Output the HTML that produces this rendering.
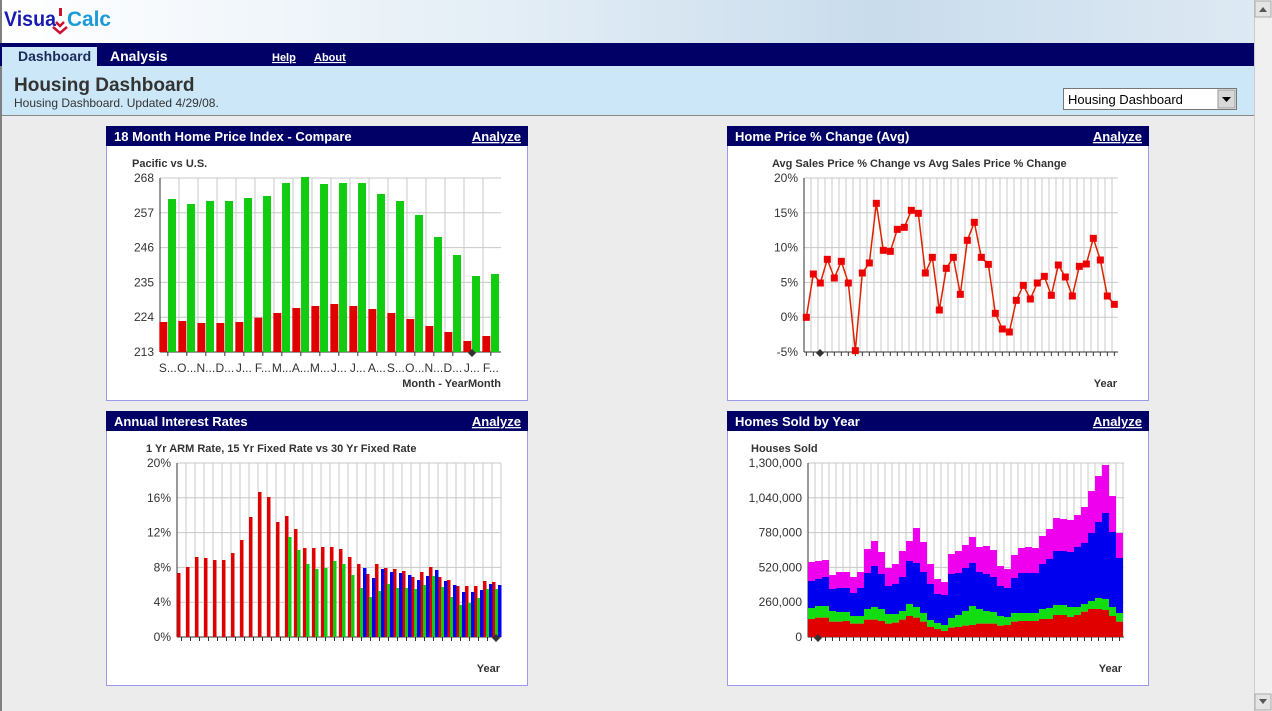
<!DOCTYPE html>
<html><head><meta charset="utf-8"><style>
body{margin:0;width:1272px;height:711px;overflow:hidden;background:#ececec;font-family:"Liberation Sans",sans-serif;}
svg{position:absolute;left:0;top:0}
</style></head><body>
<svg id="s" width="1272" height="711" xmlns="http://www.w3.org/2000/svg" font-family="Liberation Sans, sans-serif">
<defs>
<linearGradient id="ban" x1="0" x2="1" y1="0" y2="0"><stop offset="0" stop-color="#ffffff"/><stop offset="0.4" stop-color="#e4eef6"/><stop offset="0.7" stop-color="#c9dcec"/><stop offset="1" stop-color="#dde9f3"/></linearGradient>
</defs>
<rect x="0" y="0" width="1272" height="711" fill="#ececec"/>
<rect x="0" y="0" width="1254" height="43" fill="url(#ban)"/>
<rect x="0" y="0" width="2" height="711" fill="#808080"/>
<text x="4" y="26" font-size="21" font-weight="bold" fill="#1a1ab0" textLength="52" lengthAdjust="spacingAndGlyphs">Visua</text>
<text x="67" y="26" font-size="21" font-weight="bold" fill="#1a9ad8" textLength="44" lengthAdjust="spacingAndGlyphs">Calc</text>
<rect x="59" y="8" width="3" height="8" fill="#cc1133"/>
<path d="M53 27 l7 6 l7 -6 M56 22 l4 4 l4 -4" stroke="#cc1133" stroke-width="2.5" fill="none"/>
<rect x="0" y="43" width="1254" height="23" fill="#000066"/>
<rect x="2" y="47" width="95" height="19" fill="#cce8f8"/>
<text x="18" y="61" font-size="14" font-weight="bold" fill="#1a2a5a">Dashboard</text>
<text x="110" y="61" font-size="14" font-weight="bold" fill="#fff">Analysis</text>
<text x="272" y="61" font-size="11" font-weight="bold" fill="#fff" text-decoration="underline">Help</text>
<text x="314" y="61" font-size="11" font-weight="bold" fill="#fff" text-decoration="underline">About</text>
<rect x="2" y="66" width="1252" height="49" fill="#cce8f8"/>
<rect x="2" y="115" width="1252" height="1" fill="#888"/>
<text x="14" y="91" font-size="19" font-weight="bold" fill="#333">Housing Dashboard</text>
<text x="14" y="107" font-size="12" fill="#333">Housing Dashboard. Updated 4/29/08.</text>
<rect x="1063.5" y="88.5" width="173" height="21" fill="#fff" stroke="#777"/>
<text x="1068" y="104" font-size="13" fill="#000">Housing Dashboard</text>
<rect x="1218" y="90" width="17" height="18" fill="#d8d8d8" stroke="#999"/>
<path d="M1222 97 h9 l-4.5 5z" fill="#000"/>
<rect x="1254" y="0" width="18" height="711" fill="#f0f0f0"/>
<rect x="1254" y="0" width="1" height="711" fill="#ccc"/>
<rect x="1255" y="1" width="16" height="16" fill="#e4e4e4" stroke="#aaa"/>
<path d="M1259 12 h8 l-4 -5z" fill="#555"/>
<rect x="1255" y="694" width="16" height="16" fill="#e4e4e4" stroke="#aaa"/>
<path d="M1259 699 h8 l-4 5z" fill="#555"/>
<g id="g"></g>
</svg>
<script>
var g=document.getElementById('g'),h='';
function R(x,y,w,hh,f,ex){h+='<rect x="'+x+'" y="'+y+'" width="'+w+'" height="'+hh+'" fill="'+f+'" '+(ex||'')+'/>';}
function L(x1,y1,x2,y2,c,w){h+='<line x1="'+x1+'" y1="'+y1+'" x2="'+x2+'" y2="'+y2+'" stroke="'+c+'" stroke-width="'+(w||1)+'"/>';}
function T(x,y,s,sz,a,b,c,ex){h+='<text x="'+x+'" y="'+y+'" font-size="'+sz+'" fill="'+(c||'#333')+'" text-anchor="'+(a||'start')+'"'+(b?' font-weight="bold"':'')+' '+(ex||'')+'>'+s+'</text>';}
function panel(x,y,title){R(x+0.5,y+0.5,421,274,'#fff','stroke="#9999ee"');R(x,y,422,20,'#000066');
T(x+8,y+15,title,13,'start',1,'#fff');T(x+415,y+15,'Analyze',13,'end',1,'#fff','text-decoration="underline"');}
panel(106,126,'18 Month Home Price Index - Compare');
panel(727,126,'Home Price % Change (Avg)');
panel(106,411,'Annual Interest Rates');
panel(727,411,'Homes Sold by Year');
function grid(x0,x1,y0,y1,nv,ylabs,ncols,dx){
 for(var i=0;i<ylabs.length;i++){var y=y1-(y1-y0)*i/(ylabs.length-1);L(x0,y,x1,y,'#c8c8c8');T(x0-6,y+4,ylabs[i],12,'end');}
 for(var k=0;k<=ncols;k++){var x=x0+k*dx;if(x<=x1+0.5)L(x,y0,x,y1,'#c8c8c8');}
 L(x0,y0,x0,y1,'#333');L(x0,y1,x1,y1,'#333');
}
grid(160,501,178,352,0,['213','224','235','246','257','268'],18,19);
var rd=[591,588,594,594,591,578,564,549,543,537,543,552,564,582,603,621,648,633];
var gr=[222,237,228,228,219,213,174,156,177,174,174,207,228,270,336,390,453,447];
var ml=['S...','O...','N...','D...','J...','F...','M...','A...','M...','J...','J...','A...','S...','O...','N...','D...','J...','F...'];
for(var i=0;i<18;i++){var rx=106+(160+57*i)/3,ry=125+rd[i]/3,gy=125+gr[i]/3;
R(rx,ry,8,352-ry,'#e00000');R(rx+8.7,gy,8,352-gy,'#11cc11');L(rx+8.5,352,rx+8.5,356,'#333');T(rx+8.5,372,ml[i],12,'middle');}
h+='<path d="M472 349 l4 4 l-4 4 l-4 -4z" fill="#333"/>';
T(501,387,'Month - YearMonth',11,'end',1);T(132,167,'Pacific vs U.S.',11,'start',1);
grid(804,1118,178,352,0,['-5%','0%','5%','10%','15%','20%'],45,7);
var pts=[[238,577],[259,447],[280,474],[301,403],[322,459],[343,409],[364,474],[385,677],[406,444],[427,414],[448,235],[469,376],[490,379],[511,313],[532,307],[553,256],[574,265],[595,444],[616,397],[637,555],[658,430],[679,397],[700,508],[721,346],[742,292],[763,397],[784,418],[805,565],[826,612],[847,621],[868,526],[889,481],[910,522],[931,474],[952,454],[973,511],[994,420],[1015,456],[1036,513],[1057,424],[1078,417],[1099,340],[1120,405],[1141,513],[1162,538]];
var d='';for(var i=0;i<pts.length;i++){var x=727+pts[i][0]/3,y=125+pts[i][1]/3;d+=(i?'L':'M')+x+' '+y;L(x,352,x,356,'#333');}
h+='<path d="'+d+'" stroke="#dd2200" stroke-width="1.5" fill="none"/>';
for(var i=0;i<pts.length;i++){var x=727+pts[i][0]/3,y=125+pts[i][1]/3;R(x-3.5,y-3.5,7,7,'#ee0000');}
h+='<path d="M820 349 l4 4 l-4 4 l-4 -4z" fill="#333"/>';
T(1117,387,'Year',11,'end',1);T(772,167,'Avg Sales Price % Change vs Avg Sales Price % Change',11,'start',1);
grid(177,501,463,637,0,['0%','4%','8%','12%','16%','20%'],36,9);
var r3=[489,471,441,444,450,450,429,390,321,246,261,336,318,357,414,414,411,411,417,441,462,492,462,474,477,483,501,486,471,501,510,528,528,528,513,516];
for(var i=0;i<r3.length;i++){var x=106+(213+27*i)/3,y=410+r3[i]/3;R(x,y,3.5,637-y,'#e00000');L(x+4.5,637,x+4.5,641,'#333');}
var g3=[[546,381],[573,420],[600,462],[627,477],[654,474],[681,453],[708,462],[735,495],[762,534],[789,561],[816,543],[843,522],[870,534],[897,534],[924,537],[951,525],[978,498],[1005,531],[1032,561],[1059,585],[1086,579],[1113,564],[1140,537],[1167,537]];
g3.forEach(function(p){var x=106+p[0]/3,y=410+p[1]/3;R(x,y,3.5,637-y,'#11cc11');});
var b3=[[771,474],[798,504],[825,477],[852,486],[879,489],[906,495],[933,510],[960,498],[987,480],[1014,513],[1041,525],[1068,546],[1095,546],[1122,540],[1149,522],[1176,525]];
b3.forEach(function(p){var x=106+p[0]/3,y=410+p[1]/3;R(x,y,3.5,637-y,'#0000ee');});
h+='<path d="M496 634 l4 4 l-4 4 l-4 -4z" fill="#333"/>';
T(500,672,'Year',11,'end',1);T(146,452,'1 Yr ARM Rate, 15 Yr Fixed Rate vs 30 Yr Fixed Rate',11,'start',1);
grid(808,1124,463,637,0,['0','260,000','520,000','780,000','1,040,000','1,300,000'],45,7);
var tt=[456,453,450,495,486,486,501,486,417,393,426,474,462,423,393,354,396,462,507,516,432,423,405,381,411,408,420,468,477,435,414,411,414,378,357,324,327,330,315,291,243,198,165,258,369];
var bt=[513,507,501,537,534,534,549,534,489,468,492,528,522,501,453,459,486,522,552,555,492,489,474,459,486,492,501,528,534,504,489,489,489,462,447,423,423,426,411,399,369,336,309,366,444];
var gt=[594,588,588,603,606,606,618,618,597,591,597,612,612,603,582,591,609,630,639,645,624,615,603,588,597,603,606,618,621,609,609,609,609,597,594,585,585,591,591,582,573,564,567,591,609];
var rt=[627,623,623,635,635,633,641,641,629,629,633,641,638,629,618,623,635,651,657,663,653,651,647,645,641,641,641,647,645,635,633,633,633,627,627,615,615,621,615,605,597,597,600,618,635];
for(var i=0;i<45;i++){var x=727+(243+21*i)/3,Y=function(v){return 410+v/3;};
R(x,Y(tt[i]),7,Y(bt[i])-Y(tt[i]),'#ee00ee');R(x,Y(bt[i]),7,Y(gt[i])-Y(bt[i]),'#0000ee');R(x,Y(gt[i]),7,Y(rt[i])-Y(gt[i]),'#11dd11');R(x,Y(rt[i]),7,637-Y(rt[i]),'#e00000');L(x+3.5,637,x+3.5,641,'#333');}
h+='<path d="M818 634 l4 4 l-4 4 l-4 -4z" fill="#333"/>';
T(1122,672,'Year',11,'end',1);T(751,452,'Houses Sold',11,'start',1);
g.innerHTML=h;
</script>
</body></html>
